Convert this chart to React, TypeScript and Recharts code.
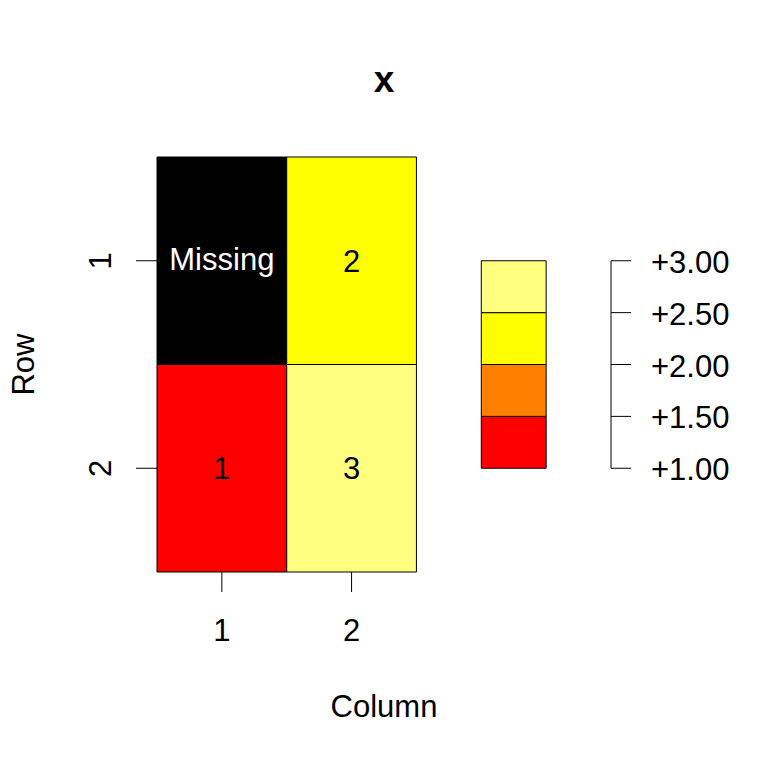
import { ComposedChart, XAxis, YAxis, ReferenceArea, ReferenceLine } from "recharts";

const FONT = '"Liberation Sans", Arial, Helvetica, sans-serif';

// matrix x: rows top to bottom, columns left to right (null = NA)
const columns = [1, 2];
const rows = [1, 2];
const cellValues: (number | null)[][] = [
  [null, 2],
  [1, 3],
];
const valueColors: Record<string, string> = { "1": "#FF0000", "2": "#FFFF00", "3": "#FFFF80" };
const missingColor = "#000000";

// key (colour legend)
const keyBreaks = [1, 1.5, 2, 2.5, 3];
const keyColors = ["#FF0000", "#FF8000", "#FFFF00", "#FFFF80"];
const keyLabels = ["+1.00", "+1.50", "+2.00", "+2.50", "+3.00"];

const W = 768;
const H = 768;

const cellLabel = (text: string, fill: string, dy: number) => (props: any) => {
  const { x, y, width, height } = props.viewBox;
  return (
    <text x={x + width / 2} y={y + height / 2} dy={dy} textAnchor="middle" fill={fill} fontSize={31} fontFamily={FONT}>
      {text}
    </text>
  );
};

const ColTick = ({ x, y, payload }: any) => (
  <text x={x} y={y} dy={47} textAnchor="middle" fontSize={31} fontFamily={FONT} fill="#000">
    {payload.value}
  </text>
);

const RowTick = ({ x, y, payload }: any) => {
  const tx = x - 23;
  return (
    <text x={tx} y={y} transform={`rotate(-90, ${tx}, ${y})`} textAnchor="middle" fontSize={31} fontFamily={FONT} fill="#000">
      {payload.value}
    </text>
  );
};

const KeyTick = ({ x, y, payload, index }: any) => (
  <text x={x + 18} y={y} dy={12} textAnchor="start" fontSize={31} fontFamily={FONT} fill="#000">
    {keyLabels[index] ?? payload.value}
  </text>
);

export default function App() {
  return (
    <div style={{ position: "absolute", left: 0, top: 0, width: W, height: H, background: "#fff" }}>
      <ComposedChart width={W} height={H} margin={{ top: 157, right: 0, bottom: 0, left: 0 }} style={{ fontFamily: FONT }}>
        <XAxis
          type="number"
          dataKey="col"
          domain={[0.5, 4]}
          ticks={columns}
          interval={0}
          allowDataOverflow
          height={196}
          axisLine={false}
          tickSize={20}
          tickLine={{ stroke: "#000", strokeWidth: 1 }}
          tick={<ColTick />}
          label={(p: any) => (
            <text x={p.viewBox.x + p.viewBox.width / 2} y={p.viewBox.y + 145} textAnchor="middle" fontSize={31} fontFamily={FONT} fill="#000">
              Column
            </text>
          )}
        />
        <YAxis
          yAxisId="row"
          type="number"
          domain={[0.5, 2.5]}
          reversed
          ticks={rows}
          interval={0}
          allowDataOverflow
          width={157}
          axisLine={false}
          tickSize={21}
          tickLine={{ stroke: "#000", strokeWidth: 1 }}
          tick={<RowTick />}
          label={(p: any) => {
            const tx = p.viewBox.x + 34;
            const ty = p.viewBox.y + p.viewBox.height / 2;
            return (
              <text x={tx} y={ty} transform={`rotate(-90, ${tx}, ${ty})`} textAnchor="middle" fontSize={31} fontFamily={FONT} fill="#000">
                Row
              </text>
            );
          }}
        />
        <YAxis
          yAxisId="key"
          orientation="right"
          type="number"
          domain={[0, 4]}
          ticks={keyBreaks}
          interval={0}
          allowDataOverflow
          width={157}
          axisLine={false}
          tickSize={20}
          tickLine={{ stroke: "#000", strokeWidth: 1 }}
          tick={<KeyTick />}
        />

        {rows.map((r, ri) =>
          columns.map((c, ci) => {
            const v = cellValues[ri][ci];
            const missing = v === null;
            return (
              <ReferenceArea
                key={`cell-${r}-${c}`}
                yAxisId="row"
                x1={c - 0.5}
                x2={c + 0.5}
                y1={r - 0.5}
                y2={r + 0.5}
                fill={missing ? missingColor : valueColors[String(v)]}
                fillOpacity={1}
                stroke="#000"
                strokeWidth={1}
                ifOverflow="visible"
                label={missing ? cellLabel("Missing", "#fff", 9) : cellLabel(String(v), "#000", 11)}
              />
            );
          })
        )}

        {keyColors.map((col, i) => (
          <ReferenceArea
            key={`key-${i}`}
            yAxisId="key"
            x1={3}
            x2={3.5}
            y1={keyBreaks[i]}
            y2={keyBreaks[i + 1]}
            fill={col}
            fillOpacity={1}
            stroke="#000"
            strokeWidth={1}
            ifOverflow="visible"
          />
        ))}
        <ReferenceLine
          yAxisId="key"
          segment={[
            { x: 4, y: keyBreaks[0] },
            { x: 4, y: keyBreaks[keyBreaks.length - 1] },
          ]}
          stroke="#000"
          strokeWidth={1}
          ifOverflow="visible"
        />

        <text x={384} y={92} textAnchor="middle" fontSize={37} fontWeight="bold" fontFamily={FONT} fill="#000">
          x
        </text>
      </ComposedChart>
    </div>
  );
}
